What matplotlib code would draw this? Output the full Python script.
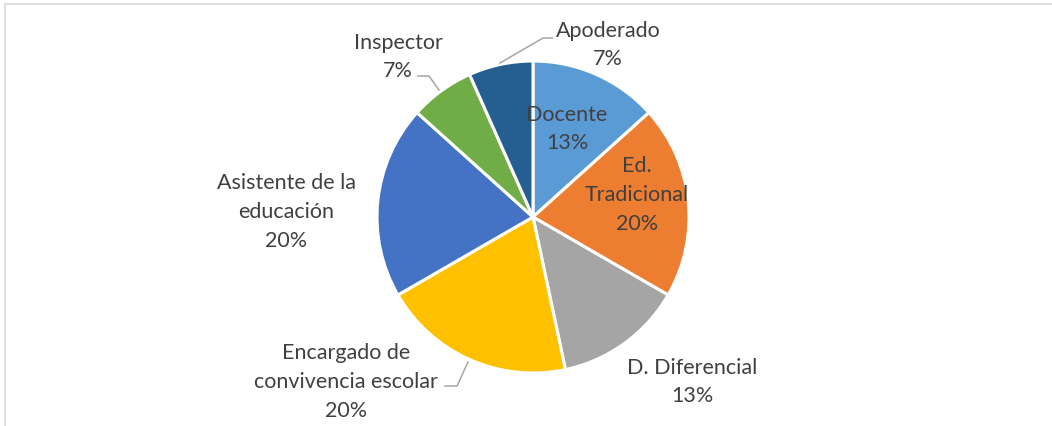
import matplotlib
matplotlib.use("Agg")
import matplotlib.pyplot as plt
from matplotlib.patches import Rectangle

# Data (counts read from the percentages: 2/15, 3/15, ...)
categories = ["Docente", "Ed.\nTradicional", "D. Diferencial",
              "Encargado de\nconvivencia escolar", "Asistente de la\neducación",
              "Inspector", "Apoderado"]
values = [2, 3, 2, 3, 3, 1, 1]
colors = ["#5B9BD5", "#ED7D31", "#A5A5A5", "#FFC000", "#4472C4", "#70AD47", "#255E91"]

W, H = 1052, 427
CX, CY, R = 533, 218, 156

# label centres in pixel coords (x, y from top)
label_pos = [(567, 129), (637, 195), (692, 382), (346, 382), (286, 212), (398, 57), (608, 45)]
# leader lines in pixel coords
leaders = {
    "Inspector": [(418, 77), (429, 77), (439, 91)],
    "Apoderado": [(500, 64), (543, 39), (552, 39)],
    "Encargado": [(445, 387), (457, 387), (468, 363)],
}

plt.rcParams["font.family"] = ["Lato", "DejaVu Sans"]

fig = plt.figure(figsize=(W / 100, H / 100), dpi=100)
ax = fig.add_axes([0, 0, 1, 1])

ax.pie(values, colors=colors, startangle=90, counterclock=False,
       center=(CX, H - CY), radius=R,
       wedgeprops=dict(edgecolor="white", linewidth=2.2))

ax.set_xlim(0, W)
ax.set_ylim(0, H)
ax.set_aspect("equal")
ax.axis("off")

# chart frame (cut off at right and bottom)
ax.add_patch(Rectangle((5, -10), W + 20, H - 5 + 10, fill=False,
                       edgecolor="#D9D9D9", linewidth=1.2))

total = sum(values)
for name, v, (x, y) in zip(categories, values, label_pos):
    pct = f"{round(v / total * 100)}%"
    ax.text(x, H - y, f"{name}\n{pct}", ha="center", va="center",
            fontsize=15.5, color="#404040", linespacing=1.55)

for pts in leaders.values():
    xs = [p[0] for p in pts]
    ys = [H - p[1] for p in pts]
    ax.plot(xs, ys, color="#A6A6A6", linewidth=1.1)

fig.savefig("out.png", dpi=100)
